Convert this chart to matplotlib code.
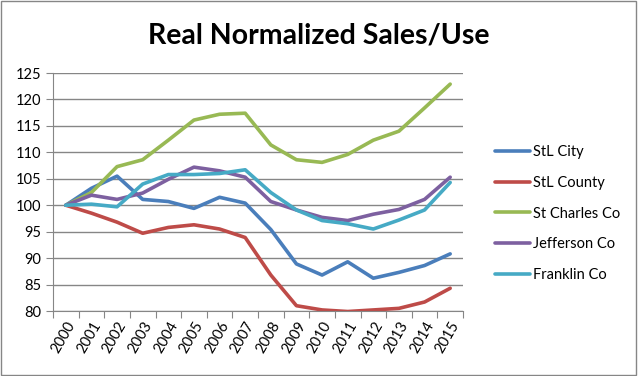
import matplotlib
matplotlib.use('Agg')
import matplotlib.pyplot as plt
from matplotlib.patches import Rectangle

years = [str(y) for y in range(2000, 2016)]
stl_city = [100, 103.2, 105.5, 101.1, 100.7, 99.4, 101.5, 100.4, 95.4, 88.9,
            86.8, 89.3, 86.2, 87.3, 88.6, 90.8]
stl_county = [100, 98.5, 96.8, 94.7, 95.8, 96.3, 95.5, 93.9, 86.8, 81.0,
              80.2, 79.9, 80.2, 80.5, 81.7, 84.3]
st_charles = [100, 102.4, 107.3, 108.6, 112.3, 116.1, 117.2, 117.4, 111.4, 108.6,
              108.1, 109.6, 112.3, 114.0, 118.4, 122.9]
jefferson = [100, 101.9, 101.1, 102.3, 104.9, 107.2, 106.5, 105.3, 100.7, 99.1,
             97.7, 97.1, 98.3, 99.2, 101.1, 105.3]
franklin = [100, 100.2, 99.7, 104.0, 105.8, 105.8, 106.0, 106.7, 102.4, 99.1,
            97.1, 96.5, 95.5, 97.2, 99.1, 104.3]

series = [
    ('StL City', stl_city, '#4A7EBB'),
    ('StL County', stl_county, '#BE4B48'),
    ('St Charles Co', st_charles, '#98B954'),
    ('Jefferson Co', jefferson, '#7D60A0'),
    ('Franklin Co', franklin, '#46AAC5'),
]

plt.rcParams['font.family'] = ['Lato', 'DejaVu Sans']

fig = plt.figure(figsize=(6.38, 3.76), dpi=100)
ax = fig.add_axes([53 / 638, 1 - 311 / 376, 410 / 638, 238 / 376])

x = list(range(len(years)))
for name, vals, col in series:
    ax.plot(x, vals, color=col, lw=2.6, label=name, solid_capstyle='round')

ax.set_ylim(80, 125)
ax.set_yticks(range(80, 126, 5))
ax.set_xlim(-0.5, len(years) - 0.5)
ax.set_xticks([i - 0.5 for i in range(len(years) + 1)])
ax.set_xticklabels([])
ax.set_xticks(x, minor=True)
ax.set_xticklabels(years, minor=True, rotation=60, ha='right',
                   rotation_mode='anchor', fontsize=10.5)
ax.tick_params(axis='x', which='minor', length=0, pad=6)
ax.tick_params(axis='x', which='major', length=5, color='#868686', direction='out')
ax.tick_params(axis='y', length=5, color='#868686', labelsize=10.5)

ax.grid(axis='y', color='#868686', lw=1)
ax.set_axisbelow(True)
for s in ['top', 'right']:
    ax.spines[s].set_visible(False)
ax.spines['left'].set_color('#868686')
ax.spines['bottom'].set_color('#868686')

fig.text(0.5, 0.905, 'Real Normalized Sales/Use', ha='center', va='center',
         fontsize=20.5, fontweight='bold')

ax.legend(loc='center left', bbox_to_anchor=(0.755, 0.432), bbox_transform=fig.transFigure,
          frameon=False, fontsize=10.5, handlelength=2.4, handletextpad=0.2,
          labelspacing=1.15)

fig.patches.append(Rectangle((0.001, 0.002), 0.996, 0.996, transform=fig.transFigure,
                             fill=False, edgecolor='#868686', lw=1))

fig.savefig('out.png', dpi=100)
